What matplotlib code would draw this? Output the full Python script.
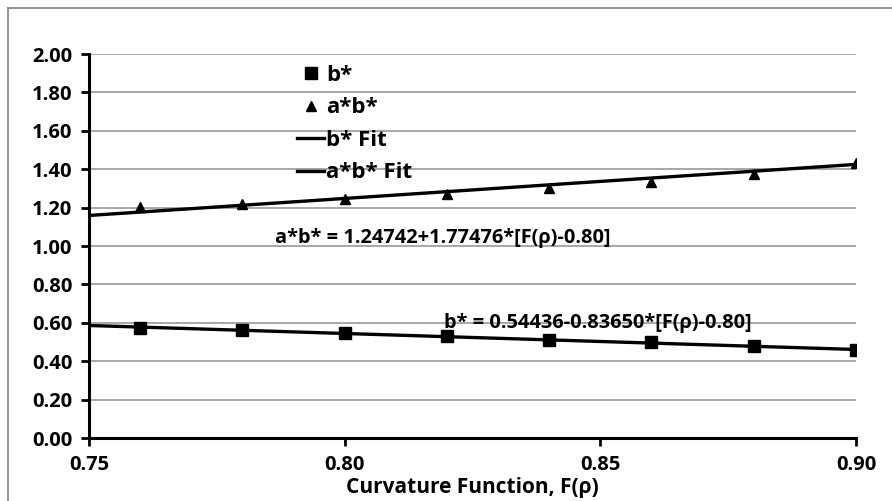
import numpy as np
import matplotlib
matplotlib.use("Agg")
import matplotlib.pyplot as plt
from matplotlib.lines import Line2D

plt.rcParams["font.family"] = ["Open Sans", "DejaVu Sans"]
plt.rcParams["font.weight"] = "bold"

# data
curv = [0.76, 0.78, 0.80, 0.82, 0.84, 0.86, 0.88, 0.90]
b_star = [0.575, 0.56, 0.545, 0.53, 0.51, 0.50, 0.48, 0.46]
ab_star = [1.205, 1.22, 1.245, 1.27, 1.30, 1.335, 1.375, 1.43]

fit_x = [0.75, 0.90]
b_fit = [0.586, 0.461]
ab_fit = [1.159, 1.425]

b_eq = "b* = 0.54436-0.83650*[F(\u03c1)-0.80]"
ab_eq = "a*b* = 1.24742+1.77476*[F(\u03c1)-0.80]"

xticks = [0.75, 0.80, 0.85, 0.90]
yticks = np.arange(0, 2.01, 0.2)

fig = plt.figure(figsize=(8.92, 5.01), dpi=100)
ax = fig.add_axes([89 / 892, 1 - 438 / 501, (856 - 89) / 892, (438 - 54) / 501])

# outer chart border (top and left visible)
fig.add_artist(Line2D([8 / 892, 1.0], [1 - 8 / 501, 1 - 8 / 501], color="#808080", lw=1.2))
fig.add_artist(Line2D([8 / 892, 8 / 892], [0.0, 1 - 8 / 501], color="#808080", lw=1.2))

ax.plot(curv, b_star, "s", color="black", ms=9, label="b*", zorder=4)
ax.plot(curv, ab_star, "^", color="black", ms=7.5, label="a*b*", zorder=4)
ax.plot(fit_x, b_fit, "-", color="black", lw=2.4, label="b* Fit", zorder=3)
ax.plot(fit_x, ab_fit, "-", color="black", lw=2.4, label="a*b* Fit", zorder=3)

ax.set_xlim(0.75, 0.90)
ax.set_ylim(0, 2.0)
ax.set_xticks(xticks)
ax.set_xticklabels([f"{v:.2f}" for v in xticks])
ax.set_yticks(yticks)
ax.set_yticklabels([f"{v:.2f}" for v in yticks])
ax.yaxis.grid(True, color="#a0a0a0", lw=1.3)
ax.set_axisbelow(True)

for s in ["top", "right"]:
    ax.spines[s].set_visible(False)
for s in ["left", "bottom"]:
    ax.spines[s].set_linewidth(2.2)
ax.spines["bottom"].set_zorder(5)
ax.tick_params(axis="both", direction="out", width=2, length=6, labelsize=14.5, colors="black")
ax.tick_params(axis="x", pad=6)
ax.tick_params(axis="y", pad=6)

fig.text(472 / 892, 1 - 488 / 501, "Curvature Function, F(\u03c1)", fontsize=15,
         fontweight="bold", ha="center", va="center")

ax.text(0.7863, 1.04, ab_eq, fontsize=14.4, fontweight="bold", va="center", ha="left")
ax.text(0.8195, 0.60, b_eq, fontsize=14.4, fontweight="bold", va="center", ha="left")

leg = ax.legend(loc="upper left", bbox_to_anchor=(0.26, 0.995), frameon=False,
                fontsize=16, handlelength=1.2, handletextpad=0.1, labelspacing=0.52,
                borderaxespad=0)
for t in leg.get_texts():
    t.set_fontweight("bold")

fig.savefig("out.png", dpi=100)
